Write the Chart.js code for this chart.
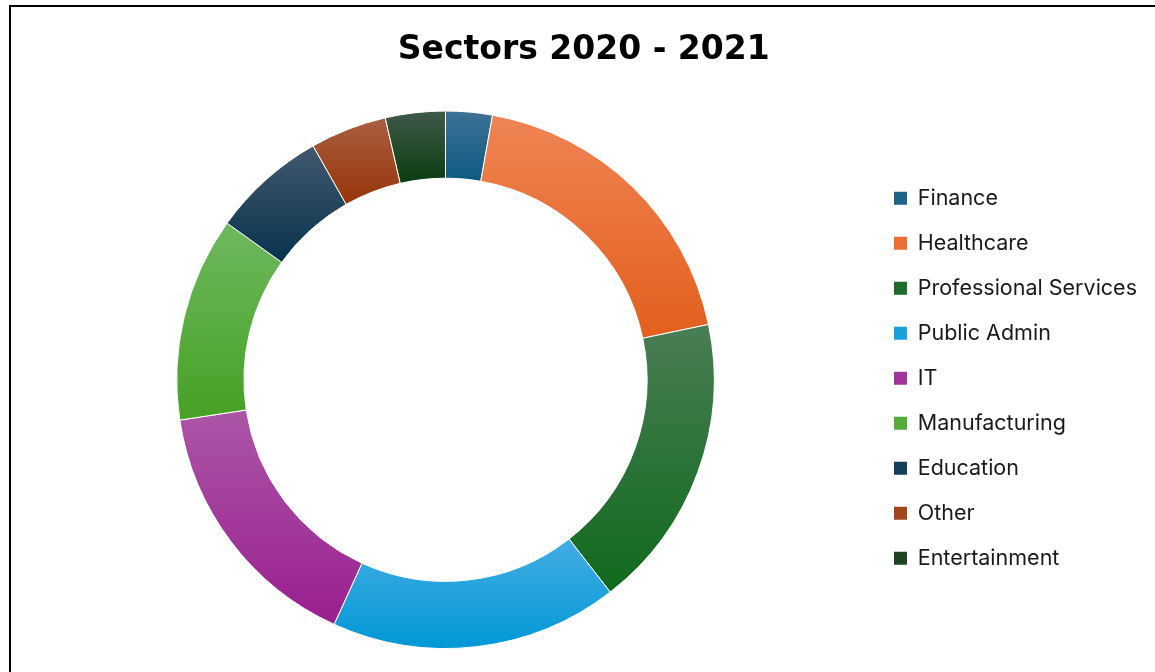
<!DOCTYPE html>
<html>
<head>
<meta charset="utf-8">
<script src="https://cdn.jsdelivr.net/npm/chart.js@4"></script>
<style>
  html, body { margin: 0; padding: 0; background: #fff; overflow: hidden; width: 1155px; height: 672px; }
  #wrap { position: absolute; left: 10px; top: 6px; width: 1152px; height: 666px; }
  #frame { position: absolute; left: 9px; top: 5px; width: 1300px; height: 900px;
           border-left: 2px solid #000; border-top: 2px solid #000; pointer-events: none; z-index: 2; }
</style>
</head>
<body>
<div id="frame"></div>
<div id="wrap"><canvas id="c"></canvas></div>
<script>
const titleText = 'Sectors 2020 - 2021';
const categories = ['Finance', 'Healthcare', 'Professional Services', 'Public Admin', 'IT',
                    'Manufacturing', 'Education', 'Other', 'Entertainment'];
const shares = [2.8, 18.9, 17.8, 17.3, 15.8, 12.3, 6.9, 4.6, 3.6];
const topColors = ['#3f7196', '#ef8454', '#4a7d55', '#44ade3', '#ac56a7', '#6fb85f', '#42596d', '#a95e42', '#41594a'];
const bottomColors = ['#0c5a81', '#e35f1c', '#0f6a1c', '#0098d6', '#991f8f', '#45a124', '#07324d', '#963508', '#0a3c10'];
const legendColors = ['#1f6288', '#eb6e35', '#1e6b2a', '#17a2dc', '#a0349a', '#56ab3b', '#163f5a', '#a2451f', '#1c4422'];

const CUTOUT = 0.75;

function sliceGradient(context) {
  const chart = context.chart;
  const area = chart.chartArea;
  const i = context.dataIndex;
  if (!area || i === undefined) return legendColors[i] || '#888';
  const cy = (area.top + area.bottom) / 2;
  const R = (Math.min(area.width, area.height) - 1) / 2;
  const r = R * CUTOUT;
  const total = shares.reduce((a, b) => a + b, 0);
  let cum = 0;
  for (let k = 0; k < i; k++) cum += shares[k];
  const a0 = -Math.PI / 2 + cum / total * 2 * Math.PI;
  const a1 = -Math.PI / 2 + (cum + shares[i]) / total * 2 * Math.PI;
  let ymin = Infinity, ymax = -Infinity;
  const steps = 60;
  for (let s = 0; s <= steps; s++) {
    const a = a0 + (a1 - a0) * s / steps;
    for (const rad of [R, r]) {
      const y = cy + rad * Math.sin(a);
      ymin = Math.min(ymin, y);
      ymax = Math.max(ymax, y);
    }
  }
  const g = chart.ctx.createLinearGradient(0, ymin, 0, ymax);
  g.addColorStop(0, topColors[i]);
  g.addColorStop(1, bottomColors[i]);
  return g;
}

new Chart(document.getElementById('c'), {
  type: 'doughnut',
  data: {
    labels: categories,
    datasets: [{
      data: shares,
      backgroundColor: sliceGradient,
      borderColor: '#ffffff',
      borderWidth: 1,
      hoverOffset: 0
    }]
  },
  options: {
    responsive: true,
    maintainAspectRatio: false,
    animation: false,
    cutout: (CUTOUT * 100) + '%',
    layout: { padding: { left: 10.5, right: 15, top: 0, bottom: 23 } },
    plugins: {
      tooltip: { enabled: false },
      title: {
        display: true,
        text: titleText,
        color: '#000',
        font: { family: 'DejaVu Sans', size: 33, weight: 'bold', lineHeight: 1.2 },
        padding: { top: 24.5, bottom: 40.4 }
      },
      legend: {
        position: 'right',
        align: 'center',
        title: {
          display: true,
          text: ' ',
          color: '#ffffff',
          font: { size: 10, lineHeight: 1.2 },
          padding: { top: 44.75, bottom: 44.75 }
        },
        labels: {
          color: '#1a1a1a',
          boxWidth: 13,
          boxHeight: 13,
          padding: 23.5,
          font: { family: 'Inter', size: 21.5 },
          generateLabels: (chart) => categories.map((name, i) => ({
            text: name,
            fillStyle: legendColors[i],
            strokeStyle: legendColors[i],
            fontColor: '#1a1a1a',
            lineWidth: 0,
            hidden: false,
            index: i
          }))
        }
      }
    }
  }
});
</script>
</body>
</html>
